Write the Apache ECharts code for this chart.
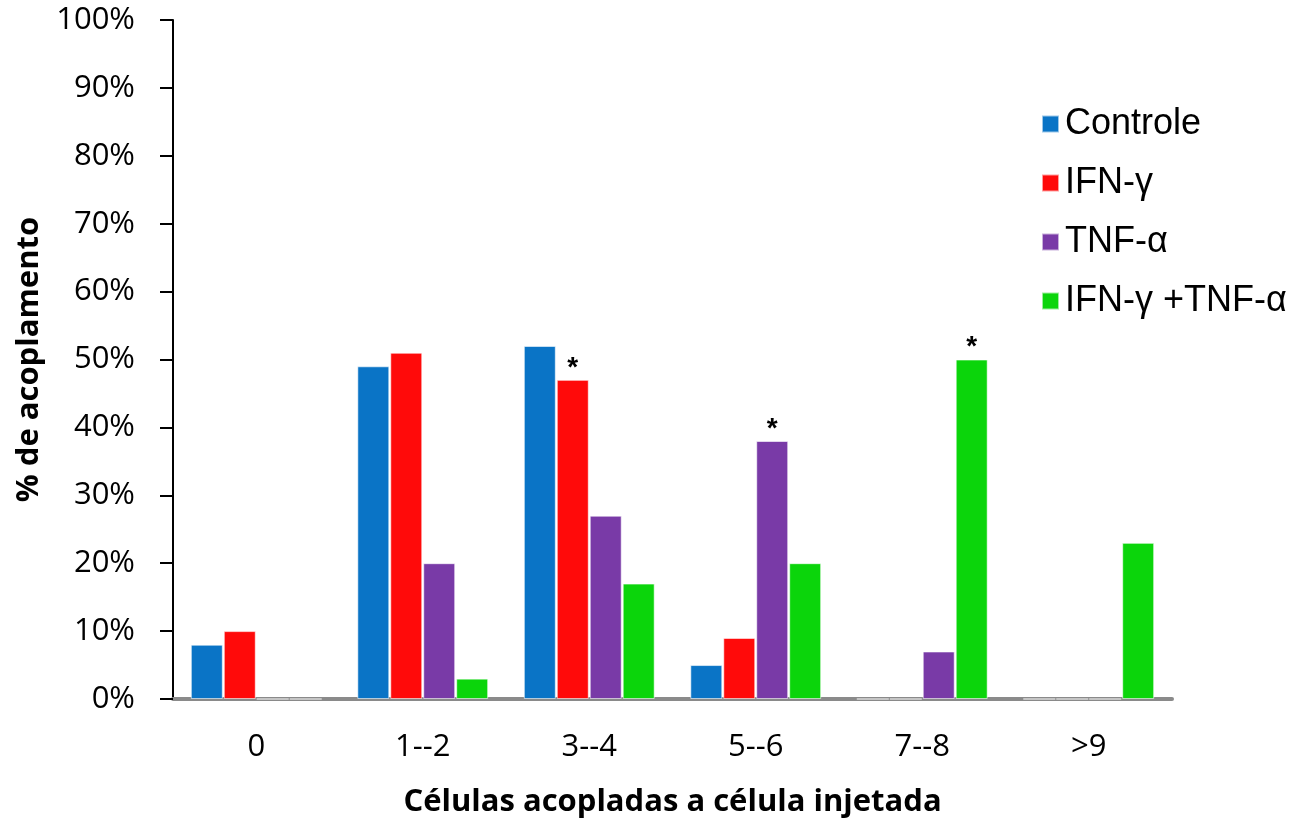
<!DOCTYPE html>
<html>
<head>
<meta charset="utf-8">
<script src="https://cdn.jsdelivr.net/npm/echarts@6/dist/echarts.min.js"></script>
<style>
  html, body { margin: 0; padding: 0; background: #fff; }
  #chart { width: 1304px; height: 818px; }
</style>
</head>
<body>
<div id="chart"></div>
<script>
// Categories: number of cells coupled to the injected cell
const categories = ['0', '1--2', '3--4', '5--6', '7--8', '>9'];
const seriesNames = ['Controle', 'IFN-\u03b3', 'TNF-\u03b1', 'IFN-\u03b3 +TNF-\u03b1'];

// Coupling percentages per group
const controle = [8, 49, 52, 5, 0, 0];
const ifn = [10, 51, 47, 9, 0, 0];
const tnf = [0, 20, 27, 38, 7, 0];
const ifnTnf = [0, 3, 17, 20, 50, 23];

// Significance markers (category index flagged with *)
const sigControle = [];
const sigIfn = [2];
const sigTnf = [3];
const sigIfnTnf = [4];

const colors = ['#0a74c6', '#ff0a0a', '#793aa7', '#0bd50b'];
const valuesList = [controle, ifn, tnf, ifnTnf];
const sigList = [sigControle, sigIfn, sigTnf, sigIfnTnf];

const chart = echarts.init(document.getElementById('chart'));

const series = seriesNames.map((name, s) => ({
  name: name,
  type: 'bar',
  barWidth: 32,
  barGap: '3%',
  itemStyle: { color: colors[s], borderColor: 'rgba(255,255,255,0.6)', borderWidth: 1 },
  data: valuesList[s].map((v, i) => sigList[s].includes(i)
    ? { value: v, label: { show: true, position: 'top', formatter: '*', distance: -2,
        fontSize: 28, fontWeight: 'bold', color: '#000', fontFamily: 'Liberation Sans' } }
    : v)
}));

chart.setOption({
  animation: false,
  backgroundColor: '#fff',
  textStyle: { fontFamily: 'Liberation Sans, Arial, sans-serif' },
  grid: { left: 173, right: 132, top: 20, bottom: 119, containLabel: false, outerBoundsMode: 'none' },
  legend: {
    orient: 'vertical',
    left: 1036,
    top: 101,
    itemWidth: 17,
    itemHeight: 17,
    itemGap: 23,
    icon: 'rect',
    textStyle: { fontSize: 36, lineHeight: 36, color: '#000', fontFamily: 'Liberation Sans', padding: [0, 0, 0, 1] },
    data: seriesNames
  },
  xAxis: {
    type: 'category',
    data: categories,
    name: 'C\u00e9lulas acopladas a c\u00e9lula injetada',
    nameLocation: 'middle',
    nameGap: 88,
    nameTextStyle: { fontSize: 31, fontWeight: 'bold', color: '#000', fontFamily: 'Open Sans', verticalAlign: 'top' },
    axisLine: { lineStyle: { color: '#8a8a8a', width: 4 } },
    axisTick: { show: false },
    axisLabel: { fontSize: 31, color: '#000', margin: 33, fontFamily: 'Open Sans' }
  },
  yAxis: {
    type: 'value',
    min: 0,
    max: 100,
    interval: 10,
    name: '% de acoplamento',
    nameLocation: 'middle',
    nameGap: 128,
    nameRotate: 90,
    nameTextStyle: { fontSize: 31, fontWeight: 'bold', color: '#000', fontFamily: 'Open Sans' },
    axisLine: { show: true, lineStyle: { color: '#000', width: 2 } },
    axisTick: { show: true, length: 13, lineStyle: { color: '#000', width: 2 } },
    splitLine: { show: false },
    axisLabel: { fontSize: 31, color: '#000', margin: 38, formatter: '{value}%', fontFamily: 'Open Sans' }
  },
  series: series
});
</script>
</body>
</html>
